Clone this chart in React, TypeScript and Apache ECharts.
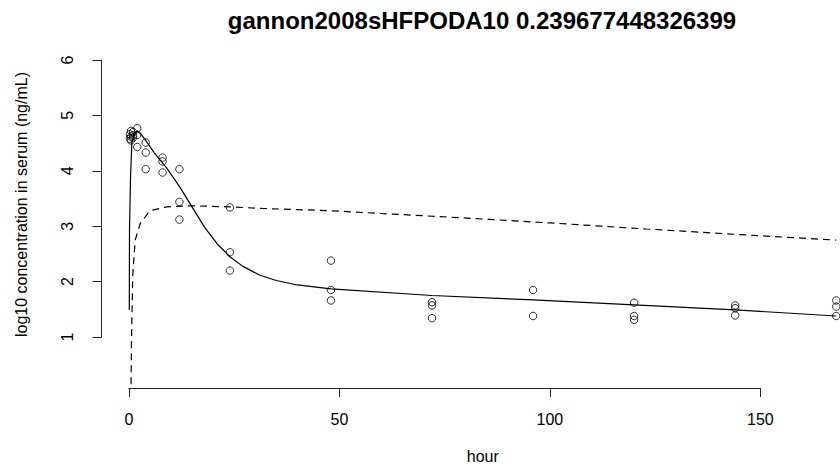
import React, { useEffect, useRef } from "react";
import * as echarts from "echarts";

const titleText = "gannon2008sHFPODA10 0.239677448326399";
const xAxisTitle = "hour";
const yAxisTitle = "log10 concentration in serum (ng/mL)";

// observed points
const obsHour = [
  0.25, 0.25, 0.5, 0.5, 0.5, 1, 1, 1, 2, 2, 2,
  4, 4, 4, 8, 8, 8, 12, 12, 12, 24, 24, 24,
  48, 48, 48, 72, 72, 72, 96, 96, 120, 120, 120, 144, 144, 144, 168, 168, 168,
];
const obsLog10 = [
  4.66, 4.58, 4.72, 4.62, 4.55, 4.7, 4.64, 4.6, 4.77, 4.65, 4.43,
  4.51, 4.33, 4.03, 4.24, 4.17, 3.97, 4.03, 3.44, 3.12, 3.34, 2.53, 2.2,
  2.38, 1.85, 1.66, 1.63, 1.57, 1.34, 1.85, 1.38, 1.62, 1.38, 1.31, 1.57, 1.52, 1.39, 1.66, 1.55, 1.38,
];

// solid model curve
const solidHour = [0.1, 0.15, 0.4, 0.7, 1.2, 2, 3, 4, 6, 9, 12, 15, 18, 21, 24, 27, 31, 35, 40, 48, 72, 96, 120, 144, 168];
const solidLog10 = [1.49, 2.93, 3.9, 4.5, 4.65, 4.72, 4.65, 4.55, 4.33, 4.05, 3.72, 3.35, 2.98, 2.68, 2.45, 2.28, 2.12, 2.02, 1.94, 1.87, 1.75, 1.67, 1.58, 1.49, 1.38];

// dashed model curve
const dashedHour = [0.45, 0.6, 0.9, 1.5, 2.7, 5, 9, 15, 24, 32, 40, 48, 60, 82, 100, 123, 145, 168];
const dashedLog10 = [-0.5, 0.83, 2.09, 2.75, 3.05, 3.28, 3.35, 3.37, 3.35, 3.32, 3.3, 3.28, 3.23, 3.14, 3.06, 2.95, 2.85, 2.75];

const xTickMin = 0;
const xTickMax = 150;
const xTickStep = 50;
const yTickMin = 1;
const yTickMax = 6;
const yTickStep = 1;

const FONT = "'Liberation Sans', Arial, sans-serif";

export default function App() {
  const ref = useRef<HTMLDivElement>(null);
  useEffect(() => {
    document.body.style.margin = "0";
    const chart = echarts.init(ref.current!, undefined, { renderer: "svg" });
    const pair = (xs: number[], ys: number[]) => xs.map((x, i) => [x, ys[i]]);
    const axisLineStyle = { color: "#222", width: 1 };
    chart.setOption({
      animation: false,
      backgroundColor: "#fff",
      textStyle: { fontFamily: FONT },
      title: {
        text: titleText,
        left: 477,
        top: 3,
        textAlign: "center",
        textStyle: { fontFamily: FONT, fontWeight: "bold", fontSize: 24, color: "#000" },
      },
      grid: [
        { left: 101.5, top: 21, right: 0, bottom: 78, outerBoundsMode: "none", containLabel: false },
        { left: 128.9, width: 631.5, top: 35, bottom: 78, outerBoundsMode: "none", containLabel: false },
        { left: 101.5, width: 100, top: 60, height: 277, outerBoundsMode: "none", containLabel: false },
      ],
      xAxis: [
        {
          gridIndex: 0, type: "value", min: -6.5, max: 168.9,
          axisLine: { show: false }, axisTick: { show: false }, axisLabel: { show: false }, splitLine: { show: false },
          name: xAxisTitle, nameLocation: "middle", nameGap: 60,
          nameTextStyle: { fontFamily: FONT, fontSize: 16, color: "#000", padding: [0, 0, 0, 24] },
        },
        {
          gridIndex: 1, type: "value", min: xTickMin, max: xTickMax, interval: xTickStep,
          axisLine: { show: true, lineStyle: axisLineStyle },
          axisTick: { show: true, length: 9, lineStyle: axisLineStyle },
          axisLabel: { show: true, margin: 23, fontFamily: FONT, fontSize: 16, color: "#000" },
          splitLine: { show: false },
        },
        { gridIndex: 2, type: "value", show: false, min: 0, max: 1 },
      ],
      yAxis: [
        {
          gridIndex: 0, type: "value", min: 0.08, max: 6.705,
          axisLine: { show: false }, axisTick: { show: false }, axisLabel: { show: false }, splitLine: { show: false },
          name: yAxisTitle, nameLocation: "middle", nameGap: 72, nameRotate: 90,
          nameTextStyle: { fontFamily: FONT, fontSize: 16, color: "#000" },
        },
        { gridIndex: 1, type: "value", show: false, min: 0, max: 1 },
        {
          gridIndex: 2, type: "value", min: yTickMin, max: yTickMax, interval: yTickStep,
          axisLine: { show: true, lineStyle: axisLineStyle },
          axisTick: { show: true, length: 9, lineStyle: axisLineStyle },
          axisLabel: { show: false },
          splitLine: { show: false },
        },
        {
          gridIndex: 2, type: "value", min: yTickMin, max: yTickMax, interval: yTickStep,
          position: "left", offset: 22,
          axisLine: { show: false }, axisTick: { show: false },
          axisLabel: { show: true, rotate: 90, margin: 4, fontFamily: FONT, fontSize: 16, color: "#000" },
          splitLine: { show: false },
        },
      ],
      series: [
        {
          type: "line", xAxisIndex: 0, yAxisIndex: 0, data: pair(solidHour, solidLog10),
          showSymbol: false, smooth: false, clip: true,
          lineStyle: { color: "#000", width: 1.2, type: "solid" },
        },
        {
          type: "line", xAxisIndex: 0, yAxisIndex: 0, data: pair(dashedHour, dashedLog10),
          showSymbol: false, smooth: false, clip: true,
          lineStyle: { color: "#000", width: 1.2, type: [7, 5] },
        },
        {
          type: "scatter", xAxisIndex: 0, yAxisIndex: 0, data: pair(obsHour, obsLog10),
          symbol: "circle", symbolSize: 7.5,
          itemStyle: { color: "rgba(0,0,0,0)", borderColor: "#000", borderWidth: 1 },
        },
      ],
    });
    return () => chart.dispose();
  }, []);
  return (
    <div
      ref={ref}
      style={{ position: "absolute", left: 0, top: 0, width: 840, height: 466, background: "#fff" }}
    />
  );
}
